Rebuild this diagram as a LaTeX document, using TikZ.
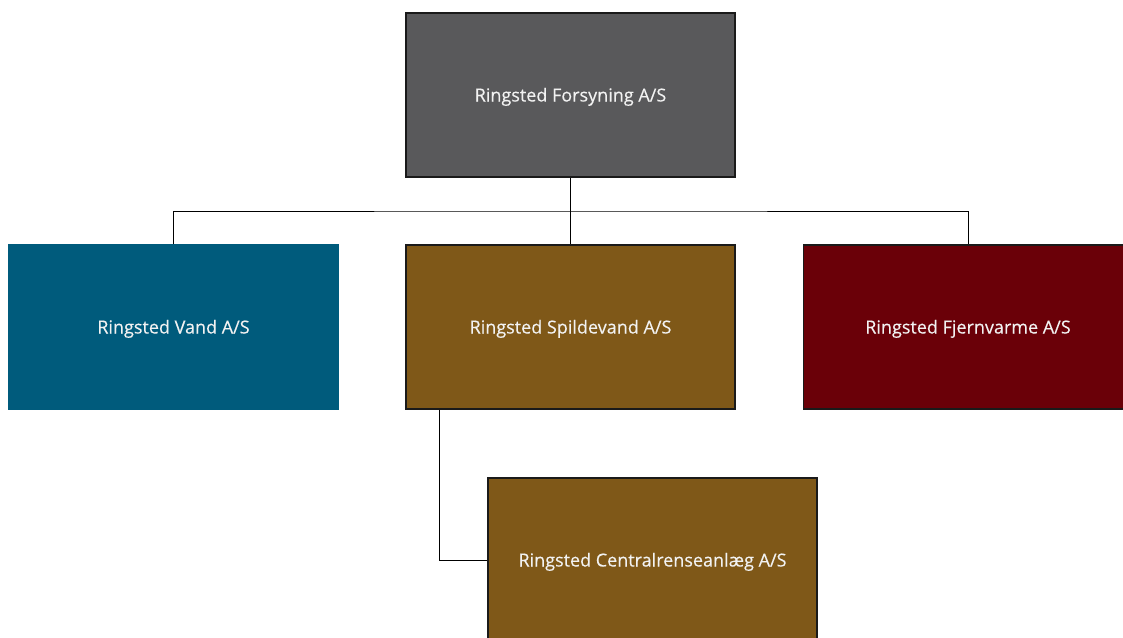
\documentclass[tikz,border=0pt]{standalone}
\usepackage{fontspec}
\setmainfont{Open Sans}
\newfontfamily\boxfont{Open Sans}[FakeBold=0.3]
\definecolor{topgray}{HTML}{59595B}
\definecolor{vandblue}{HTML}{005B7C}
\definecolor{spildbrown}{HTML}{7F5818}
\definecolor{fjernred}{HTML}{6A0008}
\definecolor{txtwhite}{HTML}{F2F2F2}
\definecolor{edgedark}{HTML}{1A1A1A}
\tikzset{
  orgbox/.style={rectangle, minimum width=329pt, minimum height=164pt, inner sep=0pt,
    draw=edgedark, line width=1.3pt, text=txtwhite, text height=13pt, text depth=0pt,
    font=\boxfont\fontsize{18}{21}\selectfont},
  link/.style={draw=black, line width=1pt}
}
\begin{document}
\begin{tikzpicture}[x=1pt,y=-1pt]
\useasboundingbox (0,0) rectangle (1123,637);
\clip (0,0) rectangle (1123,637);
\node[orgbox, fill=topgray] (top) at (570.5,95) {Ringsted Forsyning A/S};
\node[orgbox, fill=vandblue, draw=vandblue] (vand) at (173.5,327) {Ringsted Vand A/S};
\node[orgbox, fill=spildbrown] (spild) at (570.5,327) {Ringsted Spildevand A/S};
\node[orgbox, fill=fjernred] (fjern) at (968,327) {Ringsted Fjernvarme A/S};
\node[orgbox, fill=spildbrown] (central) at (652.5,560) {Ringsted Centralrenseanlæg A/S};
\coordinate (bus) at (570.5,211);
\draw[link] (top.south) -- (bus);
\draw[link] (vand.north) |- (bus) -| (fjern.north);
\draw[link] (bus) -- (spild.north);
\draw[link] ([xshift=-131pt]spild.south) |- (central.west);
\end{tikzpicture}
\end{document}
